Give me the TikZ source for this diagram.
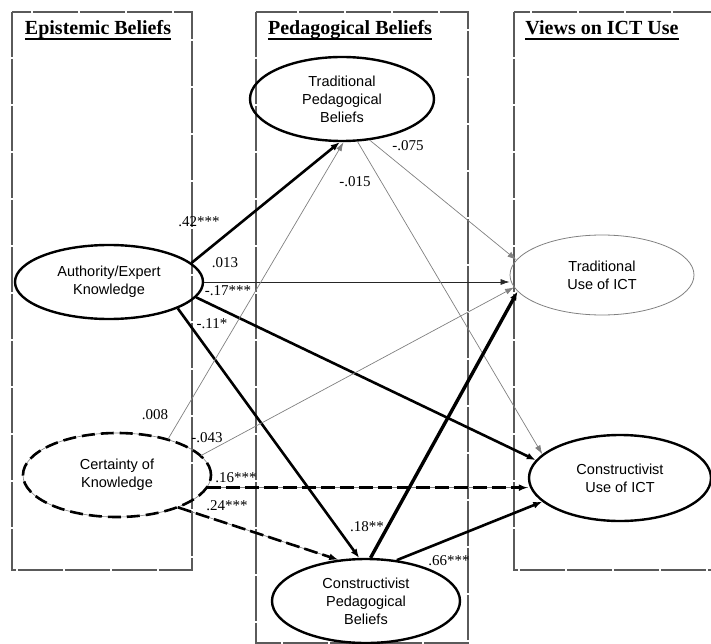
\documentclass[tikz,border=0pt]{standalone}
\usepackage{fontspec}
\setmainfont{Liberation Serif}
\newfontfamily\arialfont{Liberation Sans}
\usetikzlibrary{shapes.geometric,arrows.meta}
\definecolor{boxgray}{HTML}{5A5A5A}
\definecolor{thingray}{HTML}{808080}
\begin{document}
\begin{tikzpicture}[x=1pt,y=-1pt,
  colbox/.style={draw=boxgray,line width=1.4pt,dash pattern=on 45pt off 2pt},
  title/.style={anchor=base,inner sep=0pt,font=\bfseries\fontsize{20}{24}\selectfont},
  ell/.style={ellipse,draw,line width=2.4pt,inner sep=0pt,align=center,
    font=\arialfont\fontsize{14.5}{18}\selectfont},
  thickarr/.style={line width=2.6pt,-{Latex[length=9pt,width=7pt]}},
  thickerarr/.style={line width=3.4pt,-{Latex[length=9pt,width=7pt]}},
  thinarr/.style={line width=0.7pt,draw=black!85,-{Latex[length=9pt,width=6pt]}},
  dasharr/.style={line width=2.6pt,dash pattern=on 14pt off 5pt,-{Latex[length=9pt,width=7pt]}},
  underlay/.style={line width=0.6pt,draw=thingray},
  coef/.style={inner sep=0pt,font=\fontsize{15}{18}\selectfont},
]
\useasboundingbox (0,0) rectangle (711,644);
% column boxes
\draw[colbox] (12,12) rectangle (192,570);
\draw[colbox] (256,12) rectangle (468,643);
\draw[colbox] (514,12) rectangle (716,570);
% titles
\node[title] (t1) at (98,35) {Epistemic Beliefs};
\node[title] (t2) at (350,35) {Pedagogical Beliefs};
\node[title] (t3) at (602,35) {Views on ICT Use};
\foreach \t in {t1,t2,t3}
  \draw[line width=1.6pt] ([yshift=-3.8pt]\t.base west) -- ([yshift=-3.8pt]\t.base east);
% ellipses
\node[ell,minimum width=188pt,minimum height=74pt] (auth) at (109,282) {Authority/Expert\\Knowledge};
\node[ell,draw=thingray,line width=0.6pt,minimum width=188pt,minimum height=84pt] (cert) at (117,475) {Certainty of\\Knowledge};
\draw[line width=2.6pt,dash pattern=on 13pt off 6pt] (cert.center) ellipse (94pt and 42pt);
\node[ell,minimum width=184pt,minimum height=84pt] (tpb) at (342,99) {Traditional\\Pedagogical\\Beliefs};
\node[ell,minimum width=188pt,minimum height=84pt] (cpb) at (366,601) {Constructivist\\Pedagogical\\Beliefs};
\node[ell,draw=thingray,line width=0.8pt,minimum width=184pt,minimum height=80pt] (tui) at (602,275) {Traditional\\Use of ICT};
\node[ell,minimum width=182pt,minimum height=86pt] (cui) at (620,478) {Constructivist\\Use of ICT};
% connectors from Authority/Expert Knowledge
\draw[thickarr] (auth.13) -- (tpb.-93);
\draw[thinarr] (auth.east) -- (auth.east -| tui.west);
\draw[thickarr] (auth.-10) -- (cui.168);
\draw[thickarr] (auth.-21) -- (cpb.99);
% connectors from Certainty of Knowledge
\draw[thinarr,draw=thingray] (cert.35) -- (tpb.-88);
\draw[thinarr,draw=thingray] (cert.13) -- (tui.188);
\coordinate (c16) at (cert.-8);
\draw[underlay] (c16) -- (c16 -| cui.west);
\draw[dasharr] (c16) -- (c16 -| cui.west);
\draw[underlay] (cert.-28) -- (cpb.124);
\draw[dasharr] (cert.-28) -- (cpb.124);
% connectors from Traditional Pedagogical Beliefs
\draw[thinarr,draw=thingray] (tpb.-56) -- (tui.170);
\draw[thinarr,draw=thingray] (tpb.-70) -- (cui.163);
% connectors from Constructivist Pedagogical Beliefs
\draw[thickerarr] (cpb.84) -- (tui.191);
\draw[thickarr] (cpb.53) -- (cui.197);
% coefficients
\node[coef] (k1) at (199,222) {.42***};
\node[coef] (k2) at (225,263) {.013};
\node[coef] (k3) at (228,291) {-.17***};
\node[coef] (k4) at (212,324) {-.11*};
\node[coef] (k5) at (155,415) {.008};
\node[coef] (k6) at (207,438) {-.043};
\node[coef] (k7) at (236,478) {.16***};
\node[coef] (k8) at (227,506) {.24***};
\node[coef] (k9) at (408,146) {-.075};
\node[coef] (k10) at (355,182) {-.015};
\node[coef] (k11) at (367,527) {.18**};
\node[coef] (k12) at (449,561) {.66***};
\end{tikzpicture}
\end{document}
